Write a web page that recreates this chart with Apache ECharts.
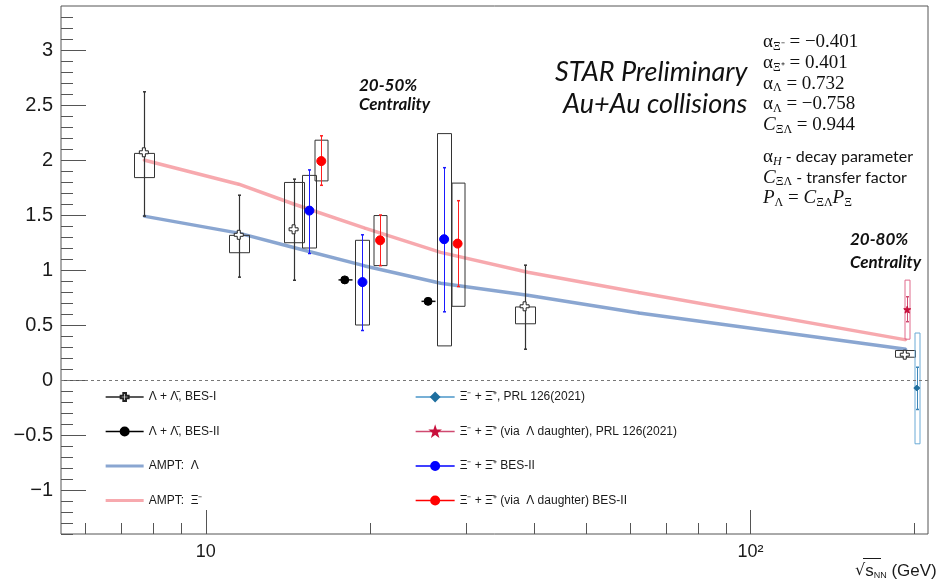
<!DOCTYPE html>
<html>
<head>
<meta charset="utf-8">
<script src="https://cdn.jsdelivr.net/npm/echarts@6/dist/echarts.min.js"></script>
<style>
  html, body { margin: 0; padding: 0; background: #fff; }
  #chart { width: 940px; height: 584px; }
</style>
</head>
<body>
<div id="chart"></div>
<script>
// ---------- axes ----------
const X_MIN = 5.425, X_MAX = 211.8;
const Y_MIN = -1.4, Y_MAX = 3.4;
const xMajorTicks = [10, 100];
const xTickLabels = ['10', '10²'];
const xMinorTicks = [6, 7, 8, 9, 20, 30, 40, 50, 60, 70, 80, 90, 200];
const yMajorTicks = [-1, -0.5, 0, 0.5, 1, 1.5, 2, 2.5, 3];
const yTickLabels = ['−1', '−0.5', '0', '0.5', '1', '1.5', '2', '2.5', '3'];
const yMinorTicks = [-1.4, -1.3, -1.2, -1.1, -0.9, -0.8, -0.7, -0.6, -0.4, -0.3, -0.2, -0.1,
  0.1, 0.2, 0.3, 0.4, 0.6, 0.7, 0.8, 0.9, 1.1, 1.2, 1.3, 1.4, 1.6, 1.7, 1.8, 1.9,
  2.1, 2.2, 2.3, 2.4, 2.6, 2.7, 2.8, 2.9, 3.1, 3.2, 3.3];

// ---------- Λ + Λ̄, BES-I ----------
const besILambdaX = [7.7, 11.5, 14.5, 38.5, 192];
const besILambdaY = [2.07, 1.32, 1.37, 0.67, 0.23];
const besILambdaStatLo = [1.49, 0.935, 0.907, 0.28, 0.215];
const besILambdaStatHi = [2.62, 1.68, 1.826, 1.044, 0.245];
const besILambdaSysLo = [1.84, 1.157, 1.248, 0.511, 0.207];
const besILambdaSysHi = [2.06, 1.315, 1.796, 0.664, 0.268];

// ---------- Λ + Λ̄, BES-II ----------
const besIILambdaX = [18.0, 25.6];
const besIILambdaY = [0.91, 0.715];
const besIILambdaStatLo = [0.89, 0.695];
const besIILambdaStatHi = [0.93, 0.735];

// ---------- Ξ⁻ + Ξ̄⁺ BES-II ----------
const besIIXiX = [15.5, 19.4, 27.4];
const besIIXiY = [1.54, 0.89, 1.28];
const besIIXiStatLo = [1.15, 0.45, 0.62];
const besIIXiStatHi = [1.91, 1.32, 1.93];
const besIIXiSysLo = [1.20, 0.50, 0.31];
const besIIXiSysHi = [1.86, 1.27, 2.24];

// ---------- Ξ⁻ + Ξ̄⁺ (via Λ daughter) BES-II ----------
const besIIXiDauX = [16.3, 20.9, 29.0];
const besIIXiDauY = [1.99, 1.27, 1.24];
const besIIXiDauStatLo = [1.77, 1.04, 0.85];
const besIIXiDauStatHi = [2.22, 1.50, 1.63];
const besIIXiDauSysLo = [1.81, 1.04, 0.67];
const besIIXiDauSysHi = [2.18, 1.495, 1.79];

// ---------- PRL 126 (2021), 200 GeV ----------
const prlXiX = [202];
const prlXiY = [-0.073];
const prlXiStatLo = [-0.268];
const prlXiStatHi = [0.116];
const prlXiSysLo = [-0.58];
const prlXiSysHi = [0.427];

const prlXiDauX = [194];
const prlXiDauY = [0.64];
const prlXiDauStatLo = [0.53];
const prlXiDauStatHi = [0.757];
const prlXiDauSysLo = [0.371];
const prlXiDauSysHi = [0.908];

// ---------- AMPT ----------
const amptX = [7.7, 11.5, 14.5, 19.6, 27, 39, 62.4, 193];
const amptLambda = [1.49, 1.335, 1.205, 1.037, 0.88, 0.77, 0.61, 0.28];
const amptXi = [2.0, 1.78, 1.60, 1.38, 1.16, 0.98, 0.795, 0.365];

// ---------- names ----------
const N_BES1 = 'Λ + Λ\u0304, BES-I';
const N_BES2 = 'Λ + Λ\u0304, BES-II';
const N_AMPT_L = 'AMPT:  Λ';
const N_AMPT_X = 'AMPT:  Ξ⁻';
const N_PRL_XI = 'Ξ⁻ + Ξ\u0304⁺, PRL 126(2021)';
const N_PRL_DAU = 'Ξ⁻ + Ξ\u0304⁺ (via  Λ daughter), PRL 126(2021)';
const N_XI_B2 = 'Ξ⁻ + Ξ\u0304⁺ BES-II';
const N_DAU_B2 = 'Ξ⁻ + Ξ\u0304⁺ (via  Λ daughter) BES-II';

const AXIS_COLOR = '#555';
const OPEN_CROSS = 'path://M-1,-3L1,-3L1,-1L3,-1L3,1L1,1L1,3L-1,3L-1,1L-3,1L-3,-1L-1,-1Z';
const STAR = 'path://M0,-10L2.35,-3.24L9.51,-3.09L3.8,1.24L5.88,8.09L0,4L-5.88,8.09L-3.8,1.24L-9.51,-3.09L-2.35,-3.24Z';
const BAND_ICON = 'path://M0,0H40V3H0Z';

const crisp = v => Math.round(v) + 0.5;

// axis tick marks drawn inward from the frame
function tickSeries(values, isX, len) {
  return {
    type: 'custom', silent: true, clip: false, z: 1, animation: false,
    data: values.map(v => isX ? [v, Y_MIN] : [X_MIN, v]),
    renderItem: (params, api) => {
      const p = api.coord([api.value(0), api.value(1)]);
      const shape = isX
        ? { x1: crisp(p[0]), y1: p[1], x2: crisp(p[0]), y2: p[1] - len }
        : { x1: p[0], y1: crisp(p[1]), x2: p[0] + len, y2: crisp(p[1]) };
      return { type: 'line', shape, style: { stroke: AXIS_COLOR, lineWidth: 1 } };
    }
  };
}

// statistical bars + systematic boxes
function uncertaintySeries(xs, ys, sLo, sHi, bLo, bHi, st) {
  return {
    type: 'custom', silent: true, z: 3, animation: false,
    data: xs.map((x, i) => [x, ys[i], sLo[i], sHi[i], bLo ? bLo[i] : ys[i], bHi ? bHi[i] : ys[i]]),
    encode: { x: 0, y: [1, 2, 3, 4, 5] },
    renderItem: (params, api) => {
      const x = api.value(0);
      const c = api.coord([x, api.value(1)]);
      const lo = api.coord([x, api.value(2)]);
      const hi = api.coord([x, api.value(3)]);
      const boxLo = api.coord([x, api.value(4)]);
      const boxHi = api.coord([x, api.value(5)]);
      const cx = crisp(c[0]);
      const children = [];
      if (st.boxHalf) {
        children.push({
          type: 'rect',
          shape: { x: cx - st.boxHalf, y: boxHi[1], width: 2 * st.boxHalf, height: boxLo[1] - boxHi[1] },
          style: { fill: 'none', stroke: st.boxColor, lineWidth: 1 }
        });
      }
      children.push({ type: 'line', shape: { x1: cx, y1: lo[1], x2: cx, y2: hi[1] },
        style: { stroke: st.barColor, lineWidth: st.barWidth || 1 } });
      [lo, hi].forEach(p => children.push({ type: 'line',
        shape: { x1: cx - 1.5, y1: p[1], x2: cx + 1.5, y2: p[1] },
        style: { stroke: st.barColor, lineWidth: 1.5 } }));
      if (st.hbar) {
        children.push({ type: 'line', shape: { x1: cx - st.hbar, y1: c[1], x2: cx + st.hbar, y2: c[1] },
          style: { stroke: st.barColor, lineWidth: 1.5 } });
      }
      return { type: 'group', children };
    }
  };
}

// point markers (line type so the legend shows a line through the marker)
function markerSeries(name, xs, ys, symbol, size, fill, stroke, lineColor) {
  return {
    name, type: 'line', z: 4, animation: false,
    data: xs.map((x, i) => [x, ys[i]]),
    symbol, symbolSize: size, showSymbol: true, showAllSymbol: true,
    itemStyle: { color: fill, borderColor: stroke, borderWidth: 1 },
    lineStyle: { color: lineColor, width: 1.3, opacity: 0 },
    emphasis: { disabled: true }
  };
}

function amptSeries(name, ys, color) {
  return {
    name, type: 'line', z: 2, animation: false,
    data: amptX.map((x, i) => [x, ys[i]]),
    symbol: 'circle', symbolSize: 2.5, showSymbol: true,
    itemStyle: { color: color },
    lineStyle: { color: color, width: 3.5 },
    emphasis: { disabled: true }
  };
}

const legendText = { fontFamily: 'Liberation Sans', fontSize: 12, color: '#1a1a1a', lineHeight: 14 };
const TXT = { textAlign: 'left', align: 'left', textVerticalAlign: 'middle', verticalAlign: 'middle', fill: '#111' };

const option = {
  backgroundColor: '#fff',
  animation: false,
  grid: { left: 61, right: 12, top: 6, bottom: 50, show: true, borderColor: AXIS_COLOR, borderWidth: 1 },
  xAxis: {
    type: 'log', min: X_MIN, max: X_MAX, logBase: 10,
    axisLine: { show: false }, axisTick: { show: false }, splitLine: { show: false },
    axisLabel: {
      margin: 9, fontFamily: 'Liberation Sans', fontSize: 18, color: '#1a1a1a',
      showMinLabel: false, showMaxLabel: false,
      formatter: v => {
        const i = xMajorTicks.findIndex(t => Math.abs(t - v) / t < 1e-6);
        return i >= 0 ? xTickLabels[i] : '';
      }
    }
  },
  yAxis: {
    type: 'value', min: Y_MIN, max: Y_MAX, interval: 0.1,
    axisLine: { show: false }, axisTick: { show: false }, splitLine: { show: false },
    axisLabel: {
      margin: 8, fontFamily: 'Liberation Sans', fontSize: 20, color: '#1a1a1a',
      showMinLabel: true, showMaxLabel: true,
      formatter: v => {
        const i = yMajorTicks.findIndex(t => Math.abs(t - v) < 1e-6);
        return i >= 0 ? yTickLabels[i] : '';
      }
    }
  },
  legend: [
    {
      left: 100, top: 385, orient: 'vertical', itemWidth: 38, itemHeight: 10, itemGap: 20.5,
      selectedMode: false, textStyle: legendText,
      lineStyle: { opacity: 1, width: 1.3 },
      data: [
        { name: N_BES1 },
        { name: N_BES2 },
        { name: N_AMPT_L, icon: BAND_ICON },
        { name: N_AMPT_X, icon: BAND_ICON }
      ]
    },
    {
      left: 410, top: 385, orient: 'vertical', itemWidth: 39, itemHeight: 10, itemGap: 20.5,
      selectedMode: false, textStyle: legendText,
      lineStyle: { opacity: 1, width: 1.3 },
      data: [{ name: N_PRL_XI }, { name: N_PRL_DAU }, { name: N_XI_B2 }, { name: N_DAU_B2 }]
    }
  ],
  series: [
    tickSeries(xMajorTicks, true, 24),
    tickSeries(xMinorTicks, true, 11),
    tickSeries(yMajorTicks, false, 25),
    tickSeries(yMinorTicks, false, 12),

    amptSeries(N_AMPT_L, amptLambda, 'rgba(125,156,204,0.9)'),
    amptSeries(N_AMPT_X, amptXi, 'rgba(246,160,165,0.9)'),

    uncertaintySeries(besILambdaX, besILambdaY, besILambdaStatLo, besILambdaStatHi, besILambdaSysLo, besILambdaSysHi,
      { boxHalf: 10, boxColor: '#333', barColor: '#333', barWidth: 1.2 }),
    uncertaintySeries(besIILambdaX, besIILambdaY, besIILambdaStatLo, besIILambdaStatHi, null, null,
      { barColor: '#111', barWidth: 1.2, hbar: 7 }),
    uncertaintySeries(besIIXiX, besIIXiY, besIIXiStatLo, besIIXiStatHi, besIIXiSysLo, besIIXiSysHi,
      { boxHalf: 7, boxColor: '#333', barColor: '#1a1aff', barWidth: 1 }),
    uncertaintySeries(besIIXiDauX, besIIXiDauY, besIIXiDauStatLo, besIIXiDauStatHi, besIIXiDauSysLo, besIIXiDauSysHi,
      { boxHalf: 6.5, boxColor: '#333', barColor: '#ff2020', barWidth: 1 }),
    uncertaintySeries(prlXiX, prlXiY, prlXiStatLo, prlXiStatHi, prlXiSysLo, prlXiSysHi,
      { boxHalf: 2.5, boxColor: '#6aaad6', barColor: '#3c86b8', barWidth: 1 }),
    uncertaintySeries(prlXiDauX, prlXiDauY, prlXiDauStatLo, prlXiDauStatHi, prlXiDauSysLo, prlXiDauSysHi,
      { boxHalf: 2.5, boxColor: '#e06a8c', barColor: '#d04a70', barWidth: 1 }),

    Object.assign(markerSeries(N_BES1, besILambdaX, besILambdaY, OPEN_CROSS, 9, '#fff', '#222', '#222'), {
      markLine: {
        silent: true, symbol: 'none', animation: false,
        label: { show: false },
        lineStyle: { type: [3, 3], color: '#777', width: 1 },
        data: [{ yAxis: 0 }]
      }
    }),
    markerSeries(N_BES2, besIILambdaX, besIILambdaY, 'circle', 8, '#000', '#000', '#000'),
    markerSeries(N_PRL_XI, prlXiX, prlXiY, 'diamond', 6, '#1f6f9f', '#1f6f9f', '#4a96c8'),
    markerSeries(N_PRL_DAU, prlXiDauX, prlXiDauY, STAR, 7, '#c8103c', '#c8103c', '#d04a70'),
    markerSeries(N_XI_B2, besIIXiX, besIIXiY, 'circle', 9, '#0000ff', '#0000ff', '#0000ff'),
    markerSeries(N_DAU_B2, besIIXiDauX, besIIXiDauY, 'circle', 9, '#ff0000', '#ff0000', '#ff0000')
  ],
  graphic: [
    { type: 'text', x: 555, y: 72, style: Object.assign({ text: 'STAR Preliminary', font: 'italic 27px Lato' }, TXT) },
    { type: 'text', x: 563, y: 104, style: Object.assign({ text: 'Au+Au collisions', font: 'italic 27px Lato' }, TXT) },
    { type: 'text', x: 359, y: 86, style: Object.assign({ text: '20-50%', font: 'italic bold 17px Lato' }, TXT) },
    { type: 'text', x: 359, y: 105, style: Object.assign({ text: 'Centrality', font: 'italic bold 17px Lato' }, TXT) },
    { type: 'text', x: 850, y: 240, style: Object.assign({ text: '20-80%', font: 'italic bold 17px Lato' }, TXT) },
    { type: 'text', x: 850, y: 263, style: Object.assign({ text: 'Centrality', font: 'italic bold 17px Lato' }, TXT) },
    {
      type: 'text', x: 763, y: 32,
      style: {
        text: [
          '{a|α}{s|Ξ⁻}{a| = −0.401}',
          '{a|α}{s|Ξ⁺}{a| = 0.401}',
          '{a|α}{s|Λ}{a| = 0.732}',
          '{a|α}{s|Λ}{a| = −0.758}',
          '{i|C}{s|ΞΛ}{a| = 0.944}',
          '{gap|}',
          '{a|α}{si|H}{t| - decay parameter}',
          '{i|C}{s|ΞΛ}{t| - transfer factor}',
          '{i|P}{s|Λ}{a| = }{i|C}{s|ΞΛ}{i|P}{s|Ξ}'
        ].join('\n'),
        fill: '#111', textAlign: 'left', align: 'left', textVerticalAlign: 'top', verticalAlign: 'top',
        rich: {
          a: { fontFamily: 'Liberation Serif', fontSize: 19, lineHeight: 20.7, fill: '#111', color: '#111' },
          i: { fontFamily: 'Liberation Serif', fontStyle: 'italic', fontSize: 19, lineHeight: 20.7, fill: '#111', color: '#111' },
          s: { fontFamily: 'Liberation Serif', fontSize: 12, lineHeight: 20.7, padding: [9, 0, 0, 0], fill: '#111', color: '#111' },
          si: { fontFamily: 'Liberation Serif', fontStyle: 'italic', fontSize: 12, lineHeight: 20.7, padding: [9, 0, 0, 0], fill: '#111', color: '#111' },
          t: { fontFamily: 'Lato', fontSize: 16, lineHeight: 20.7, fill: '#111', color: '#111' },
          gap: { fontSize: 6, lineHeight: 11 }
        }
      }
    },
    {
      type: 'text', x: 855, y: 571,
      style: {
        text: '{r|√}{v|s}{n|NN}{v| (GeV)}',
        textAlign: 'left', align: 'left', textVerticalAlign: 'middle', verticalAlign: 'middle',
        rich: {
          r: { fontFamily: 'DejaVu Sans', fontSize: 16, fill: '#1a1a1a', color: '#1a1a1a' },
          v: { fontFamily: 'Liberation Sans', fontSize: 17, fill: '#1a1a1a', color: '#1a1a1a' },
          n: { fontFamily: 'Liberation Sans', fontSize: 9, padding: [9, 0, 0, 0], fill: '#1a1a1a', color: '#1a1a1a' }
        }
      }
    },
    { type: 'line', shape: { x1: 863, y1: 558.5, x2: 881, y2: 558.5 }, style: { stroke: '#1a1a1a', lineWidth: 1 } }
  ]
};

const chart = echarts.init(document.getElementById('chart'));
chart.setOption(option);
</script>
</body>
</html>
